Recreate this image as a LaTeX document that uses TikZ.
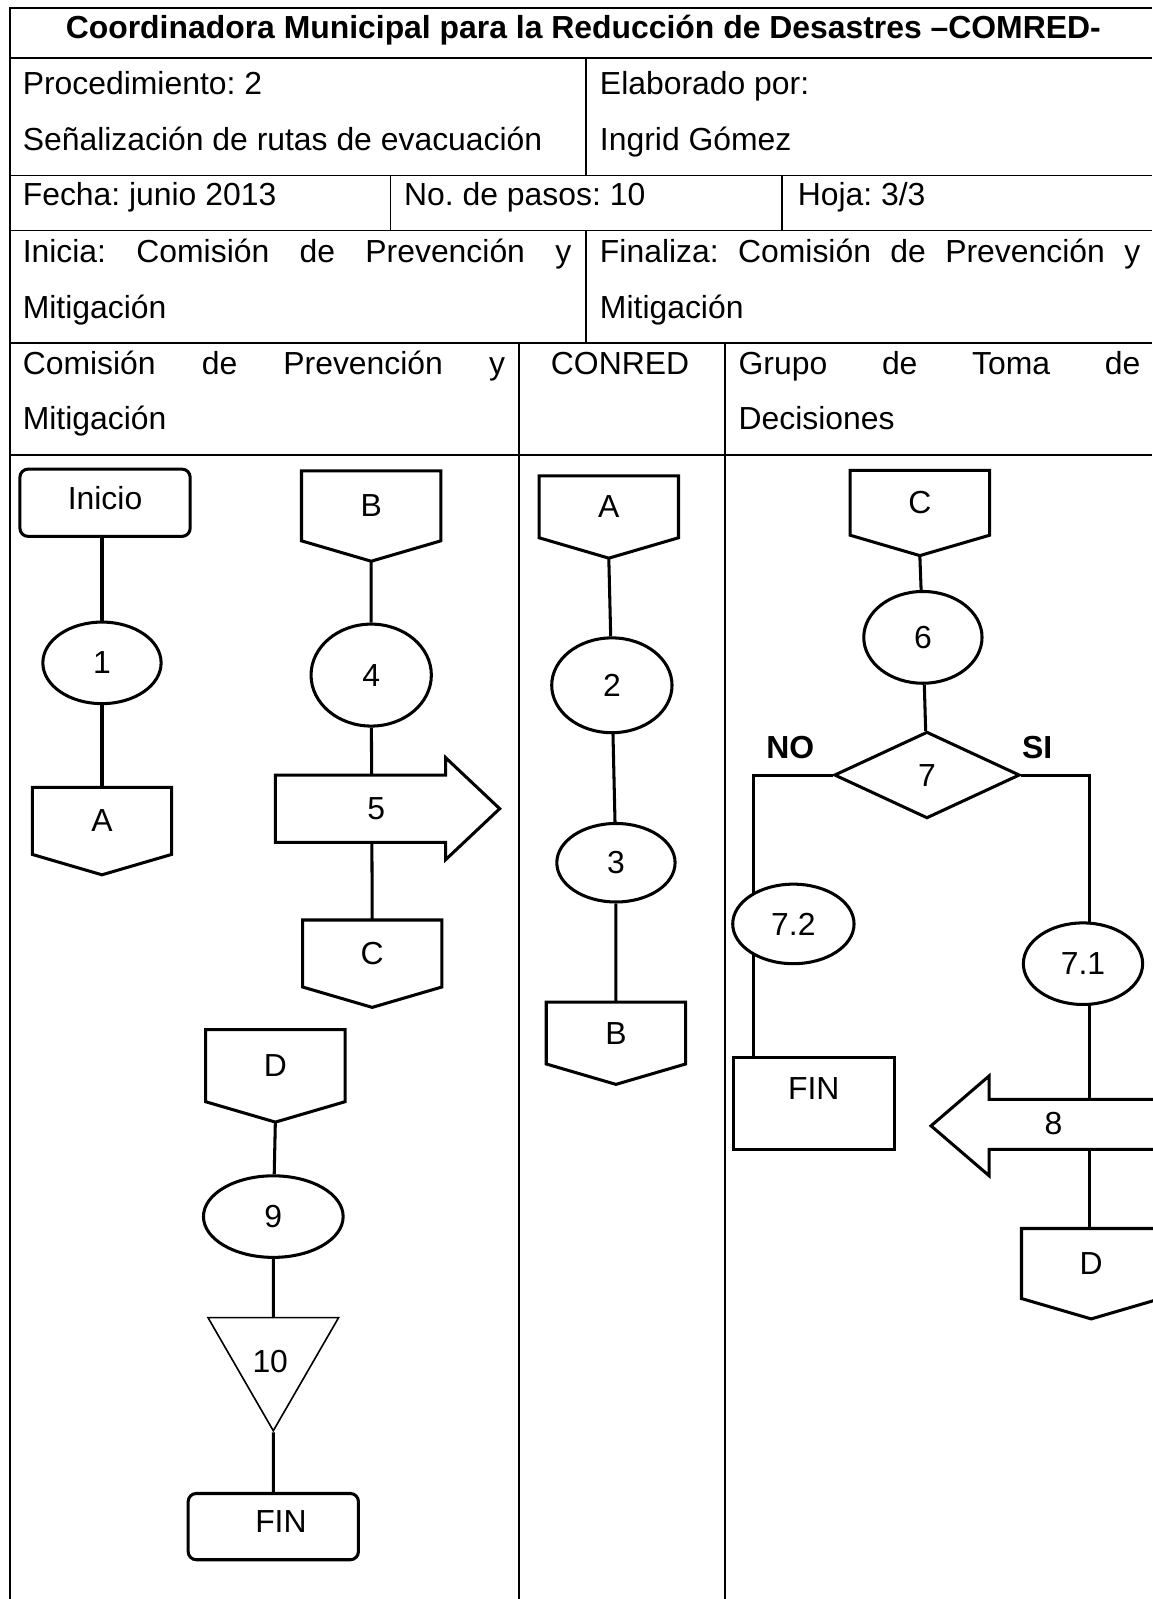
\documentclass[tikz,border=0pt]{standalone}
\usepackage{fontspec}
\setmainfont{Liberation Sans}
\usetikzlibrary{shapes.geometric}
\frenchspacing

\pgfdeclarelayer{fondo}
\pgfsetlayers{fondo,main}

\tikzset{
    tabla/.style={line width=1pt},
    linea/.style={line width=1.7pt},
    forma/.style={draw, line width=1.7pt, fill=white},
    texto/.style={inner sep=0pt, anchor=base west},
    paso/.style={forma, ellipse, inner sep=0pt},
    inicio/.style={forma, rounded corners=0.16cm, minimum width=3.34cm, minimum height=1.32cm},
    salto/.style={inner sep=0pt, minimum width=2.72cm, minimum height=1.3cm},
    negrita/.style={inner sep=0pt, font=\fontsize{17.8}{31}\selectfont\bfseries}
}

\begin{document}
\begin{tikzpicture}[x=0.02cm, y=-0.02cm, font=\fontsize{17.8}{31}\selectfont]
        \useasboundingbox (0,0) rectangle (1130,1568);

        % Table
        \draw[tabla] (10,1568) -- (10,8) -- (1130,8);
        \foreach \y in {57,172,226,336,446}
            \draw[tabla] (10,\y) -- (1130,\y);
        \draw[tabla] (575,57) -- (575,172);
        \draw[tabla] (575,226) -- (575,336);
        \draw[tabla] (383,172) -- (383,226);
        \draw[tabla] (767,172) -- (767,226);
        \draw[tabla] (509,336) -- (509,1568);
        \draw[tabla] (711,336) -- (711,1568);

        % Header
        \node[negrita, anchor=base] (titulo) at (572,38) {Coordinadora Municipal para la Reducción de Desastres –COMRED-};
        \node[texto] (proc) at (22,93) {Procedimiento: 2};
        \node[texto] (nombre) at (22,148) {Señalización de rutas de evacuación};
        \node[texto] (elab) at (588,93) {Elaborado por:};
        \node[texto] (autor) at (588,148) {Ingrid Gómez};
        \node[texto] (fecha) at (22,202) {Fecha: junio 2013};
        \node[texto] (pasos) at (396,202) {No. de pasos: 10};
        \node[texto] (hoja) at (782,202) {Hoja: 3/3};
        \node[texto] (inicia) at (22,257) {\makebox[10.76cm][s]{Inicia: Comisión de Prevención y}};
        \node[texto] (inicia2) at (22,312) {Mitigación};
        \node[texto] (finaliza) at (588,257) {\makebox[10.6cm][s]{Finaliza: Comisión de Prevención y}};
        \node[texto] (finaliza2) at (588,312) {Mitigación};

        % Lanes
        \node[texto] (carril1) at (22,367) {\makebox[9.46cm][s]{Comisión de Prevención y}};
        \node[texto] (carril1b) at (22,421) {Mitigación};
        \node[inner sep=0pt, anchor=base] (carril2) at (608,367) {CONRED};
        \node[texto] (carril3) at (724,367) {\makebox[7.88cm][s]{Grupo de Toma de}};
        \node[texto] (carril3b) at (724,421) {Decisiones};

        % Comision de Prevencion y Mitigacion
        \node[inicio, text depth=0.2cm] (ini) at (103,493) {Inicio};
        \node[paso, minimum width=2.32cm, minimum height=1.6cm] (p1) at (100,650) {1};
        \node[salto] (cA) at (100,805) {A};
        \node[salto, minimum height=1.36cm] (cB) at (364,496) {B};
        \node[paso, minimum width=2.36cm, minimum height=2cm] (p4) at (364,662) {4};
        \draw[forma] (270,760) -- (437,760) -- (437,743) -- (490,793) -- (437,843) -- (437,826) -- (270,826) -- cycle;
        \node[inner sep=0pt] (p5) at (369,793) {5};
        \node[salto] (cC1) at (365,935) {C};
        \node[salto, minimum height=1.4cm] (cD1) at (270,1045) {D};
        \node[paso, minimum width=2.74cm, minimum height=1.6cm] (p9) at (268,1193) {9};
        \node[forma, line width=0.9pt, regular polygon, regular polygon sides=3, shape border rotate=180,
              minimum size=2.96cm, inner sep=0pt] (p10) at (268,1329) {};
        \node[inner sep=0pt] (n10) at (265,1335) {10};
        \node[inicio, minimum height=1.3cm, text depth=0.2cm] (fin1) at (268,1497) {\hspace{0.3cm}FIN};

        % CONRED
        \node[salto, minimum height=1.2cm] (cA2) at (597,497) {A};
        \node[paso, minimum width=2.36cm, minimum height=1.86cm] (p2) at (600,672) {2};
        \node[paso, minimum width=2.32cm, minimum height=1.54cm] (p3) at (604,846) {3};
        \node[salto, minimum height=1.2cm] (cB2) at (604,1013) {B};

        % Grupo de Toma de Decisiones
        \node[salto, minimum height=1.26cm] (cC3) at (902,493) {C};
        \node[paso, minimum width=2.32cm, minimum height=1.8cm] (p6) at (905,625) {6};
        \node[forma, diamond, minimum width=3.64cm, minimum height=1.7cm, inner sep=0pt] (p7) at (909,760) {7};
        \node[negrita] (no) at (775,733) {NO};
        \node[negrita] (si) at (1017,733) {SI};
        \coordinate (ramaNo) at (739,760);
        \coordinate (ramaSi) at (1068,760);
        \node[paso, minimum width=2.38cm, minimum height=1.56cm] (p72) at (778,906) {7.2};
        \node[forma, minimum width=3.16cm, minimum height=1.8cm, text depth=0.6cm] (fin3) at (798,1082) {FIN};
        \node[paso, minimum width=2.34cm, minimum height=1.6cm] (p71) at (1062,945) {7.1};
        \draw[forma] (1160,1078) -- (970,1078) -- (970,1055) -- (913,1104) -- (970,1153) -- (970,1127) -- (1160,1127) -- cycle;
        \node[inner sep=0pt] (p8) at (1033,1102) {8};
        \node[salto, minimum height=1.36cm] (cD3) at (1070,1239) {D};

        % Off-page connectors
        \foreach \c in {cA,cB,cC1,cD1,cA2,cB2,cC3,cD3}
            \draw[linea] (\c.north west) -- (\c.north east) -- (\c.south east) -- ([yshift=-0.4cm]\c.south) -- (\c.south west) -- cycle;

        % Connectors
        \begin{pgfonlayer}{fondo}
            \fill[white] (0,0) rectangle (1130,1568);
            \draw[linea] (p1 |- ini.south) -- (p1) -- (cA.north);
            \draw[linea] ([yshift=-0.4cm]cB.south) -- (p4) -- (cC1.north);
            \draw[linea] ([yshift=-0.4cm]cD1.south) -- (p9) -- (p10) -- (fin1);
            \draw[linea] ([yshift=-0.4cm]cA2.south) -- (p2) -- (p3) -- (cB2.north);
            \draw[linea] ([yshift=-0.4cm]cC3.south) -- (p6) -- (p7);
            \draw[linea] (p7.west) -- (ramaNo) -- (ramaNo |- fin3.north);
            \draw[linea] (p7.east) -- (ramaSi) -- (ramaSi |- cD3.north);
        \end{pgfonlayer}
    \end{tikzpicture}
\end{document}
